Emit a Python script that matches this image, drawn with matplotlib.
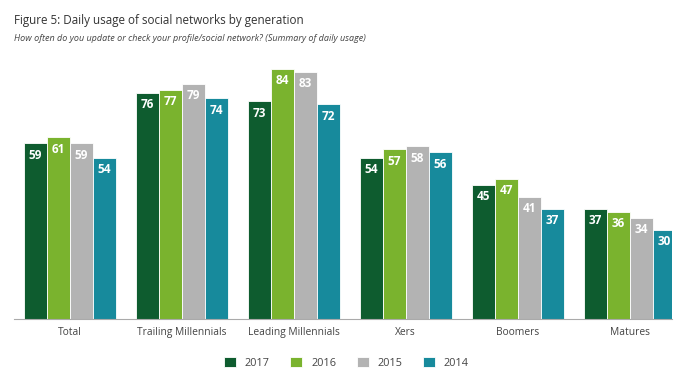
import numpy as np
import matplotlib.pyplot as plt

plt.rcParams['font.family'] = ['Open Sans', 'DejaVu Sans']

groups = ['Total', 'Trailing Millennials', 'Leading Millennials', 'Xers', 'Boomers', 'Matures']
years = ['2017', '2016', '2015', '2014']
v2017 = [59, 76, 73, 54, 45, 37]
v2016 = [61, 77, 84, 57, 47, 36]
v2015 = [59, 79, 83, 58, 41, 34]
v2014 = [54, 74, 72, 56, 37, 30]
colors = ['#0e5c2f', '#7ab32e', '#b3b3b3', '#178a9c']

fig = plt.figure(figsize=(6.87, 3.85), dpi=100)
ax = fig.add_axes([0.0204, 0.1714, 0.958, 0.774])

x = np.arange(len(groups))
w = 0.205
for i, (vals, c, yr) in enumerate(zip([v2017, v2016, v2015, v2014], colors, years)):
    pos = x + (i - 1.5) * w
    ax.bar(pos, vals, w, color=c, edgecolor='white', linewidth=0.6, label=yr)
    for p, v in zip(pos, vals):
        ax.text(p, v - 1.8, str(v), ha='center', va='top', color='white',
                fontsize=8.5, fontweight='bold')

ax.set_xlim(-0.5, 5.38)
ax.set_ylim(0, 100)
ax.set_yticks([])
ax.set_xticks(x)
ax.set_xticklabels(groups, fontsize=7.4, color='#444444')
ax.tick_params(axis='x', length=0, pad=6)
for s in ['top', 'right', 'left']:
    ax.spines[s].set_visible(False)
ax.spines['bottom'].set_color('#aaaaaa')
ax.spines['bottom'].set_linewidth(0.8)

fig.text(0.02, 0.947, 'Figure 5: Daily usage of social networks by generation',
         fontsize=8.4, color='#333333', va='center')
fig.text(0.02, 0.899, 'How often do you update or check your profile/social network? (Summary of daily usage)',
         fontsize=6.5, color='#444444', style='italic', va='center')

leg = fig.legend(loc='center', bbox_to_anchor=(0.504, 0.058), ncol=4, frameon=False,
                 fontsize=7.8, handlelength=1.1, handleheight=1.1, columnspacing=1.9,
                 handletextpad=0.8)
for t in leg.get_texts():
    t.set_color('#444444')

plt.savefig('out.png', dpi=100)
